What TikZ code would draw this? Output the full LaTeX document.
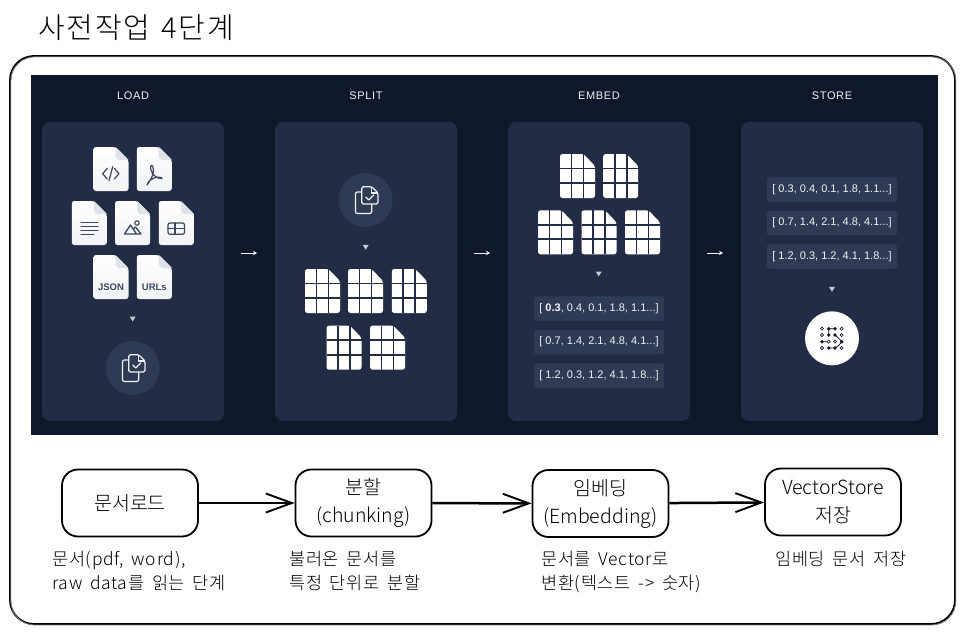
\documentclass[tikz,border=0pt]{standalone}
\usepackage{fontspec}
\usepackage{tikz}
\usetikzlibrary{arrows.meta,calc,positioning}
\setmainfont{Noto Sans CJK KR}[UprightFont=* Light,WordSpace=1.7]
\newfontfamily\titlefont{Noto Sans CJK KR}[UprightFont=* Light,LetterSpace=6,WordSpace=1.4]
\newfontfamily\notefont{Noto Sans CJK KR}[UprightFont=* Light,LetterSpace=4,WordSpace=1.7]
\newfontfamily\panelfont{Liberation Sans}
\newfontfamily\headfont[LetterSpace=6]{Liberation Sans}
\definecolor{bgnavy}{HTML}{0F172A}
\definecolor{panelnavy}{HTML}{222C44}
\definecolor{chipnavy}{HTML}{2F3A54}
\definecolor{inknavy}{HTML}{3A475E}
\definecolor{softline}{HTML}{F0F2F5}
\definecolor{foldgray}{HTML}{DFE2E8}
\tikzset{
	panel/.style={fill=panelnavy,rounded corners=8pt,minimum width=182pt,minimum height=299pt,inner sep=0pt,outer sep=0pt},
	headlabel/.style={text=softline,font=\headfont\fontsize{11}{13}\selectfont,inner sep=0pt},
	vecbox/.style={fill=chipnavy,rounded corners=2.5pt,minimum width=130pt,minimum height=24.5pt,inner sep=0pt,outer sep=0pt,text=softline,font=\panelfont\fontsize{11}{13}\selectfont},
	halo/.style={circle,fill=chipnavy,minimum size=54pt,inner sep=0pt},
	sketchbox/.style={draw=black,line width=1.8pt,rounded corners=16pt,minimum width=136pt,minimum height=67pt,inner sep=0pt,align=center,font=\fontsize{19.5}{28}\selectfont},
	caption/.style={anchor=north west,inner sep=0pt,align=left,font=\notefont\fontsize{17.5}{24}\selectfont},
	flow/.style={-{Straight Barb[length=26pt,width=19pt,line width=1.9pt]},line width=2.5pt,black},
	thin arrow/.style={-{Stealth[length=4pt,width=4.5pt]},line width=0.7pt,draw=softline},
	icon/.style={draw=inknavy,line width=1.2pt,line cap=round,line join=round},
	filepage/.pic={
		\path[top color=white,bottom color=softline,rounded corners=2.5pt] (-17.5,-22) -- (4.5,-22) -- (17.5,-9) -- (17.5,22) -- (-17.5,22) -- cycle;
		\fill[foldgray] (4.5,-22) -- (17.5,-9) -- (7.5,-9) -- (4.5,-12) -- cycle;
	},
	chunkpage/.pic={
		\fill[white,rounded corners=2.5pt] (-17.5,-22) -- (6,-22) -- (17.5,-10) -- (17.5,22) -- (-17.5,22) -- cycle;
		\draw[panelnavy,line width=1.7pt] (-6,-22) -- (-6,22) (6,-22) -- (6,22) (-17.5,-7.5) -- (17.5,-7.5) (-17.5,7) -- (17.5,7);
	},
	dropmark/.pic={
		\fill[softline!80!panelnavy] (-3,-2.5) -- (3,-2.5) -- (0,2.5) -- cycle;
	},
	copydoc/.pic={
		\draw[draw=softline,line width=1.2pt,line join=round,rounded corners=2pt] (-3.8,-8) -- (-10.3,-8) -- (-10.3,13.5) -- (6,13.5) -- (6,4);
		\draw[draw=softline,fill=chipnavy,line width=1.2pt,line join=round,rounded corners=1.5pt] (-4,-13.3) -- (6,-13.3) -- (12.3,-7) -- (12.3,4) -- (-4,4) -- cycle;
		\draw[softline,line width=1.2pt,line join=round] (6,-13.3) -- (6,-7) -- (12.3,-7);
		\draw[softline,line width=1.2pt,line cap=round,line join=round] (0,-3) -- (3,0) -- (8,-5);
	},
}
\begin{document}
\begin{tikzpicture}[x=1pt,y=-1pt]
	\useasboundingbox (0,0) rectangle (966,634);
	\node[anchor=west,inner sep=0pt,font=\titlefont\fontsize{29}{32}\selectfont] (title) at (38,28) {사전작업 4단계};
	\draw[black,line width=1.8pt,rounded corners=24pt] (10,56) rectangle (955,624);
	\draw[black!55,line width=0.8pt,rounded corners=24pt] (10.8,56.8) rectangle (955.8,625);
	\fill[bgnavy] (31,75) rectangle (938,435);

	\node[panel] (loadpanel) at (133,271.5) {};
	\node[panel] [right=51pt of loadpanel] (splitpanel) {};
	\node[panel] [right=51pt of splitpanel] (embedpanel) {};
	\node[panel] [right=51pt of embedpanel] (storepanel) {};
	\node[headlabel] at (133,95.5) (loadhead) {LOAD};
	\node[headlabel] at (366,95.5) (splithead) {SPLIT};
	\node[headlabel] at (599,95.5) (embedhead) {EMBED};
	\node[headlabel] at (832,95.5) (storehead) {STORE};

	\coordinate (a_1) at (241,253);
	\coordinate (a_2) at (257,253);
	\coordinate (b_1) at (474,253);
	\coordinate (b_2) at (490,253);
	\coordinate (c_1) at (707,253);
	\coordinate (c_2) at (723,253);
	\draw[thin arrow] (a_1) -- (a_2);
	\draw[thin arrow] (b_1) -- (b_2);
	\draw[thin arrow] (c_1) -- (c_2);

	\foreach \px/\py in {111/169,154.3/169,89.3/223,132.5/223,176.3/223,111/277,154.3/277}
		\pic at (\px,\py) {filepage};
	\draw[icon] (107.3,168.3) -- (102.7,173.7) -- (107.3,179) (112.7,166.7) -- (109,180.7) (114.3,168.3) -- (119,173.7) -- (114.3,179);
	\draw[icon,line width=1.2pt,fill=none] (147,185) .. controls (152,178) and (155.5,171) .. (152.5,166) .. controls (151,164) and (150,167) .. (151,170) .. controls (152.5,175) and (157,179) .. (162,178.5) .. controls (163,177) and (155,176) .. (150.5,180) .. controls (149,181.5) and (147,183) .. (147,185);
	\draw[icon,line width=1.3pt] (81,222.3) -- (98,222.3) (81,226.4) -- (98,226.4) (81,230.5) -- (98,230.5) (81,234.4) -- (94,234.4);
	\draw[icon,line width=1.3pt] (124.5,234) -- (130.5,225) -- (136.5,234) -- cycle (133.5,229) -- (135.5,227) -- (141,234) -- (136.5,234);
	\node[circle,draw=inknavy,line width=1.1pt,minimum size=4.5pt,inner sep=0pt] (sundot) at (137,223) {};
	\draw[icon,rounded corners=2pt] (168,223) rectangle (184.5,234.3);
	\draw[icon] (168,228.3) -- (184.5,228.3) (175,223) -- (175,234.3);
	\node[text=inknavy,inner sep=0pt,font=\panelfont\bfseries\fontsize{9.5}{10}\selectfont] (jsonlabel) at (111,287) {JSON};
	\node[text=inknavy,inner sep=0pt,font=\panelfont\bfseries\fontsize{9.5}{10}\selectfont] (urllabel) at (154.3,287) {URLs};
	\pic at (132.7,319) {dropmark};
	\node[halo] (loadhalo) at (132.7,368) {};
	\pic at (132.7,368) {copydoc};

	\node[halo] (splithalo) at (365.7,200) {};
	\pic at (365.7,200) {copydoc};
	\pic at (365.7,247.3) {dropmark};
	\foreach \px/\py in {322.5/291,365.5/291,409.3/291,344/347.7,387.5/347.7}
		\pic at (\px,\py) {chunkpage};

	\foreach \px/\py in {577.5/176,620.7/176,555.5/232.3,599/232.3,642.5/232.3}
		\pic at (\px,\py) {chunkpage};
	\pic at (598.7,274) {dropmark};
	\node[vecbox] (vec_a) at (599,308.5) {[ {\bfseries 0.3}, 0.4, 0.1, 1.8, 1.1...]};
	\node[vecbox] [below=9pt of vec_a] (vec_b) {[ 0.7, 1.4, 2.1, 4.8, 4.1...]};
	\node[vecbox] [below=9pt of vec_b] (vec_c) {[ 1.2, 0.3, 1.2, 4.1, 1.8...]};

	\node[vecbox] (vec_d) at (832,189.5) {[ 0.3, 0.4, 0.1, 1.8, 1.1...]};
	\node[vecbox] [below=9pt of vec_d] (vec_e) {[ 0.7, 1.4, 2.1, 4.8, 4.1...]};
	\node[vecbox] [below=9pt of vec_e] (vec_f) {[ 1.2, 0.3, 1.2, 4.1, 1.8...]};
	\pic at (832,289.3) {dropmark};
	\node[circle,fill=white,minimum size=54pt,inner sep=0pt] (storedisc) at (832,338.3) {};
	\draw[bgnavy,line width=0.8pt] (828.7,328.7) -- (835,328.7) (828.7,328.7) -- (828.7,335) (828.7,348) -- (835,348) (822,341.7) -- (828.7,341.7) (835,335) .. controls (839,338) and (842,342) .. (841.7,341.7) .. controls (840,345) and (838,346) .. (835,348);
	\foreach \dx/\dy in {828.7/328.7,835/328.7,828.7/335,835/335,822/341.7,841.7/341.7,828.7/348,835/348}
		\fill[bgnavy] (\dx,\dy) circle[radius=1.9pt];
	\foreach \dx/\dy in {822/328.7,841.7/328.7,822/335,841.7/335,828.7/341.7,835/341.7,822/348,841.7/348}
		\draw[bgnavy,line width=0.6pt,fill=white] (\dx,\dy) circle[radius=1.6pt];

	\node[sketchbox] (docload) at (130,503) {문서로드};
	\node[sketchbox] (chunking) at (363.5,503) {분할\\(chunking)};
	\node[sketchbox] (embedding) at (600.5,503.5) {임베딩\\(Embedding)};
	\node[sketchbox] (vstore) at (833,502) {VectorStore\\저장};
	\path[flow]
		(docload) edge (chunking)
		(chunking) edge (embedding)
		(embedding) edge (vstore);

	\node[caption] (loadnote) at (52,550.5) {문서(pdf, word),\\raw data를 읽는 단계};
	\node[caption] (chunknote) at (289,550.5) {불러온 문서를\\특정 단위로 분할};
	\node[caption] (embednote) at (541,550.5) {문서를 Vector로\\변환(텍스트 -> 숫자)};
	\node[caption] (storenote) at (775,550.5) {임베딩 문서 저장};
\end{tikzpicture}
\end{document}
